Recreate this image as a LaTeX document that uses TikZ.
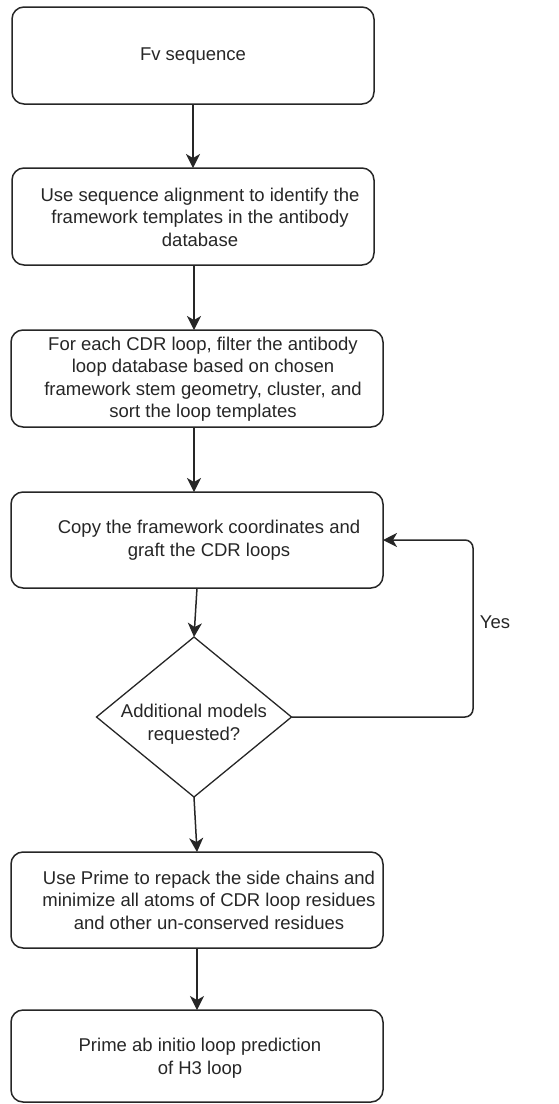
\documentclass[tikz,border=0pt]{standalone}
\usepackage{fontspec}
\setmainfont{Liberation Sans}
\usetikzlibrary{arrows.meta,shapes.geometric}
\definecolor{ink}{HTML}{262626}
\begin{document}
\begin{tikzpicture}[x=1pt,y=-1pt,
  box/.style={draw=ink, line width=1.5pt, rounded corners=12pt, rectangle,
    inner sep=0pt, outer sep=0pt},
  decision/.style={draw=ink, line width=1.3pt, diamond, inner sep=0pt, outer sep=0pt},
  txt/.style={align=center, inner sep=0pt, text=ink,
    font=\fontsize{18.5}{22.5}\selectfont},
  arr/.style={draw=ink, line width=1.5pt,
    -{Stealth[length=14pt,width=14pt,inset=4pt]}}
]
\useasboundingbox (0,0) rectangle (559,1104);

% process boxes
\node[box, minimum width=362pt, minimum height=97pt] (b1) at (193,55.5) {};
\node[box, minimum width=362pt, minimum height=97pt] (b2) at (193,216.5) {};
\node[box, minimum width=372pt, minimum height=97pt] (b3) at (197,378.5) {};
\node[box, minimum width=372pt, minimum height=96pt] (b4) at (197,540) {};
\node[decision, minimum width=195pt, minimum height=160pt] (dia) at (194,717) {};
\node[box, minimum width=372pt, minimum height=96pt] (b5) at (197,900) {};
\node[box, minimum width=372pt, minimum height=92pt] (b6) at (197,1056) {};

% box texts
\node[txt] (t1) at (193,56) {Fv sequence};
\node[txt] (t2) at (200,217) {Use sequence alignment to identify the\\framework templates in the antibody\\database};
\node[txt] (t3) at (203,379) {For each CDR loop, filter the antibody\\loop database based on chosen\\framework stem geometry, cluster, and\\sort the loop templates};
\node[txt] (t4) at (209,540) {Copy the framework coordinates and\\graft the CDR loops};
\node[txt] (td) at (194,724) {Additional models\\requested?};
\node[txt] (t5) at (209,900) {Use Prime to repack the side chains and\\minimize all atoms of CDR loop residues\\and other un-conserved residues};
\node[txt] (t6) at (200,1058) {Prime ab initio loop prediction\\of H3 loop};

% main flow
\draw[arr] (b1.south) -- (b2.north);
\draw[arr] ([xshift=1pt]b2.south) -- ([xshift=1pt]b2.south |- b3.north);
\draw[arr] ([xshift=-3pt]b3.south) -- ([xshift=-3pt]b4.north);
\draw[arr] (b4.south) -- (dia.north);
\draw[arr] (dia.south) -- (b5.north);
\draw[arr] (b5.south) -- (b6.north);

% loop back for further models
\coordinate (loopx) at (473,0);
\draw[arr, rounded corners=8pt] (dia.east) -- (dia.east -| loopx) -- (b4.east -| loopx) -- (b4.east);
\node[txt] (yes) at (495,622) {Yes};
\end{tikzpicture}
\end{document}
